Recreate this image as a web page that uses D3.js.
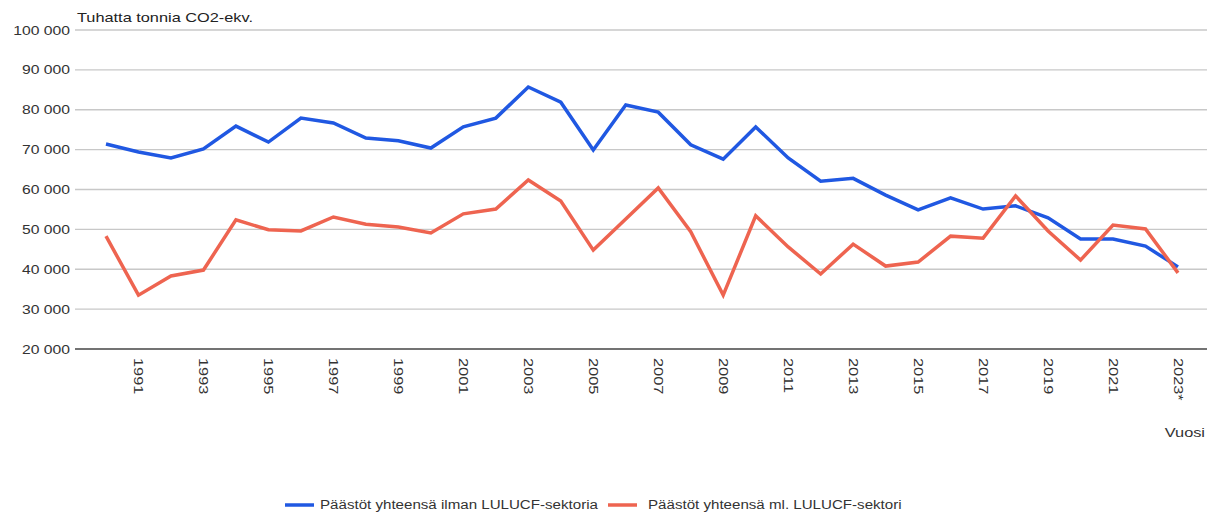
<!DOCTYPE html>
<html lang="fi">
<head>
<meta charset="UTF-8">
<title>Päästöt</title>
<style>
  html, body { margin: 0; padding: 0; background: #fff; }
  svg { display: block; font-family: "Liberation Sans", Arial, sans-serif; }
</style>
</head>
<body>
<div id="chart"></div>
<script src="https://cdn.jsdelivr.net/npm/d3@7"></script>
<script>
// years 1990..2023, last one is preliminary
const years = [1990, 1991, 1992, 1993, 1994, 1995, 1996, 1997, 1998, 1999,
  2000, 2001, 2002, 2003, 2004, 2005, 2006, 2007, 2008, 2009,
  2010, 2011, 2012, 2013, 2014, 2015, 2016, 2017, 2018, 2019,
  2020, 2021, 2022, 2023];
const yearLabels = years.map(y => y === 2023 ? "2023*" : String(y));

// thousand tonnes CO2-eq
const withoutLulucf = [71400, 69400, 67900, 70200, 75900, 71900, 77900, 76700, 72900, 72200,
  70400, 75700, 77900, 85700, 81900, 69900, 81200, 79400, 71200, 67600,
  75700, 67900, 62100, 62800, 58600, 54900, 57900, 55100, 55900, 52900,
  47600, 47600, 45800, 40600];
const withLulucf = [48300, 33500, 38300, 39800, 52400, 49900, 49600, 53100, 51300, 50600,
  49100, 53900, 55100, 62400, 57100, 44800, 52600, 60400, 49400, 33500,
  53400, 45600, 38800, 46300, 40800, 41800, 48300, 47800, 58400, 49600,
  42300, 51100, 50100, 39100];

const yTicks = [20000, 30000, 40000, 50000, 60000, 70000, 80000, 90000, 100000];

const seriesNames = ["Päästöt yhteensä ilman LULUCF-sektoria", "Päästöt yhteensä ml. LULUCF-sektori"];
const colors = ["#2058e2", "#ee6450"];

const width = 1207, height = 513;
const gridLeft = 75, gridRight = 1207;
const stretch = 1.21; // the text in the original is a bit wider than Arial

const svg = d3.select("#chart").append("svg")
  .attr("width", width)
  .attr("height", height);

const x = d3.scalePoint().domain(years).range([106, 1178]);
const y = d3.scaleLinear().domain([20000, 100000]).range([349, 30]);

const fmt = v => d3.format(",")(v).replace(/,/g, " ");

// gridlines
svg.append("g").selectAll("line")
  .data(yTicks)
  .join("line")
  .attr("x1", gridLeft)
  .attr("x2", gridRight)
  .attr("y1", d => y(d))
  .attr("y2", d => y(d))
  .attr("stroke", d => d === 20000 ? "#444" : "#c8c8c8")
  .attr("stroke-width", d => d === 20000 ? 1.5 : 1.3);

// y tick labels
svg.append("g").selectAll("text")
  .data(yTicks)
  .join("text")
  .attr("transform", d => `translate(70,${y(d)}) scale(${stretch},1)`)
  .attr("dy", "0.35em")
  .attr("text-anchor", "end")
  .attr("font-size", 13)
  .attr("fill", "#333")
  .text(fmt);

svg.append("text")
  .attr("transform", `translate(77,22) scale(${stretch},1)`)
  .attr("font-size", 13.5)
  .attr("fill", "#222")
  .text("Tuhatta tonnia CO2-ekv.");

// x labels, every second year, rotated
svg.append("g").selectAll("text")
  .data(years.filter((d, i) => i % 2 === 1))
  .join("text")
  .attr("transform", d => `translate(${x(d) - 4.5},${358}) rotate(90) scale(${stretch},1)`)
  .attr("font-size", 13.5)
  .attr("fill", "#333")
  .text(d => yearLabels[years.indexOf(d)]);

svg.append("text")
  .attr("transform", `translate(1205,437) scale(${stretch},1)`)
  .attr("text-anchor", "end")
  .attr("font-size", 13.5)
  .attr("fill", "#333")
  .text("Vuosi");

// lines
const line = d3.line()
  .x((d, i) => x(years[i]))
  .y(d => y(d));

[withoutLulucf, withLulucf].forEach((vals, k) => {
  svg.append("path")
    .datum(vals)
    .attr("fill", "none")
    .attr("stroke", colors[k])
    .attr("stroke-width", 3.5)
    .attr("stroke-linejoin", "miter")
    .attr("d", line);
});

// legend
const swatchX = [285, 608];
const labelX = [320, 648];
const legend = svg.append("g");
seriesNames.forEach((name, k) => {
  legend.append("line")
    .attr("x1", swatchX[k])
    .attr("x2", swatchX[k] + 29)
    .attr("y1", 505)
    .attr("y2", 505)
    .attr("stroke", colors[k])
    .attr("stroke-width", 3.5);
  legend.append("text")
    .attr("transform", `translate(${labelX[k]},509) scale(${stretch},1)`)
    .attr("font-size", 12.5)
    .attr("fill", "#333")
    .text(name);
});
</script>
</body>
</html>
